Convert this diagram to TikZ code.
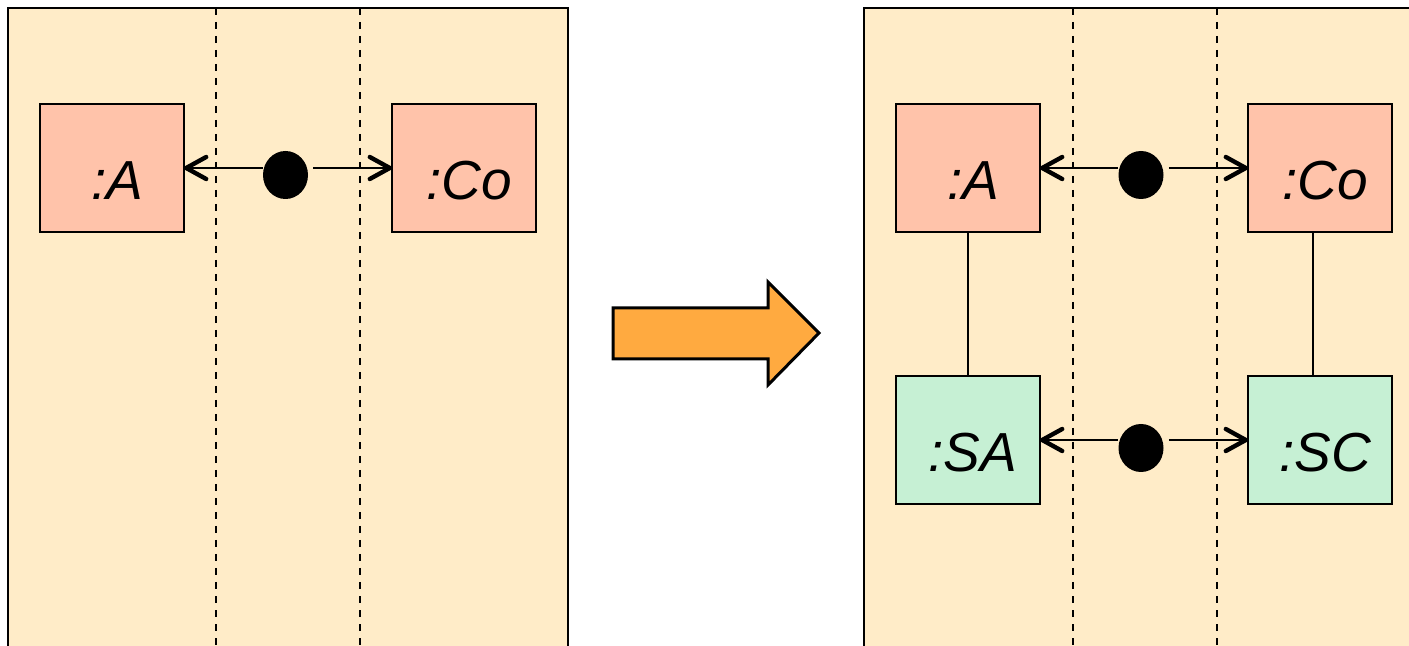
\documentclass[tikz,border=0pt]{standalone}
\usepackage{fontspec}
\setmainfont{Liberation Sans}
\usepackage{tikz}
\usetikzlibrary{positioning}
\usetikzlibrary{shapes.geometric}
\usetikzlibrary{arrows.meta}

\definecolor{lanebg}{HTML}{FFECC8}
\definecolor{rolebg}{HTML}{FFC3AA}
\definecolor{stubbg}{HTML}{C6F0D4}
\definecolor{turnbg}{HTML}{FFAA40}

\begin{document}
\begin{tikzpicture}[x=.5pt,y=-.5pt,
  panel/.style={draw,line width=1.4pt,fill=lanebg},
  lane/.style={dash pattern=on 3.5pt off 3.5pt,line width=.8pt},
  obj/.style={draw,line width=1.4pt,minimum width=72pt,minimum height=64pt,inner sep=0pt,outer sep=0pt},
  role/.style={obj,fill=rolebg},
  stub/.style={obj,fill=stubbg},
  lbl/.style={font=\itshape\fontsize{27.5}{27.5}\selectfont,xshift=2.5pt,yshift=-6.5pt},
  link/.style={ellipse,fill=black,minimum width=22.5pt,minimum height=24pt,inner sep=0pt},
  conn/.style={line width=1.1pt,-{Straight Barb[length=10pt,width=11pt,line width=2.2pt 0,round]}}]
 \useasboundingbox (0,0) rectangle (1409,646);
 \clip (0,0) rectangle (1409,646);
 \draw[panel] (8,8) rectangle (568,660);
 \draw[panel] (864,8) rectangle (1420,660);
 \foreach \x in {216,360,1073,1217} {
 \draw[lane] (\x,8) -- (\x,646);
 }
 \node[role] (a1) at (112,168) [label={[lbl]center:{:A}}] {};
 \node[role] (co1) at (464,168) [label={[lbl]center:{:Co}}] {};
 \node[link] (d1) at (285.5,175) {};
 \coordinate (d1r) at ([xshift=2.5pt]d1.east);
 \draw[conn] (d1.west |- a1.east) -- (a1.east);
 \draw[conn] (d1r |- co1.west) -- (co1.west);

 \node[role] (a2) at (968,168) [label={[lbl]center:{:A}}] {};
 \node[role] (co2) at (1320,168) [label={[lbl]center:{:Co}}] {};
 \node[stub,below=72pt of a2] (sa) [label={[lbl]center:{:SA}}] {};
 \node[stub,below=72pt of co2] (sc) [label={[lbl]center:{:SC}}] {};
 \node[link] (d2) at (1141,175) {};
 \node[link] (d3) at (1141,448) {};
 \coordinate (d2r) at ([xshift=2.5pt]d2.east);
 \coordinate (d3r) at ([xshift=2.5pt]d3.east);
 \coordinate (co2s) at ([xshift=-3.5pt]co2.south);
 \draw[conn] (d2.west |- a2.east) -- (a2.east);
 \draw[conn] (d2r |- co2.west) -- (co2.west);
 \draw[conn] (d3.west |- sa.east) -- (sa.east);
 \draw[conn] (d3r |- sc.west) -- (sc.west);
 \draw[line width=.8pt] (a2) -- (sa);
 \draw[line width=.8pt] (co2s) -- (co2s |- sc.north);

 \draw[line width=1.5pt,fill=turnbg,line join=miter] (613,308) -- (768,308) -- (768,282)
   -- (819,333) -- (768,385) -- (768,359) -- (613,359) -- cycle;
\end{tikzpicture}
\end{document}
